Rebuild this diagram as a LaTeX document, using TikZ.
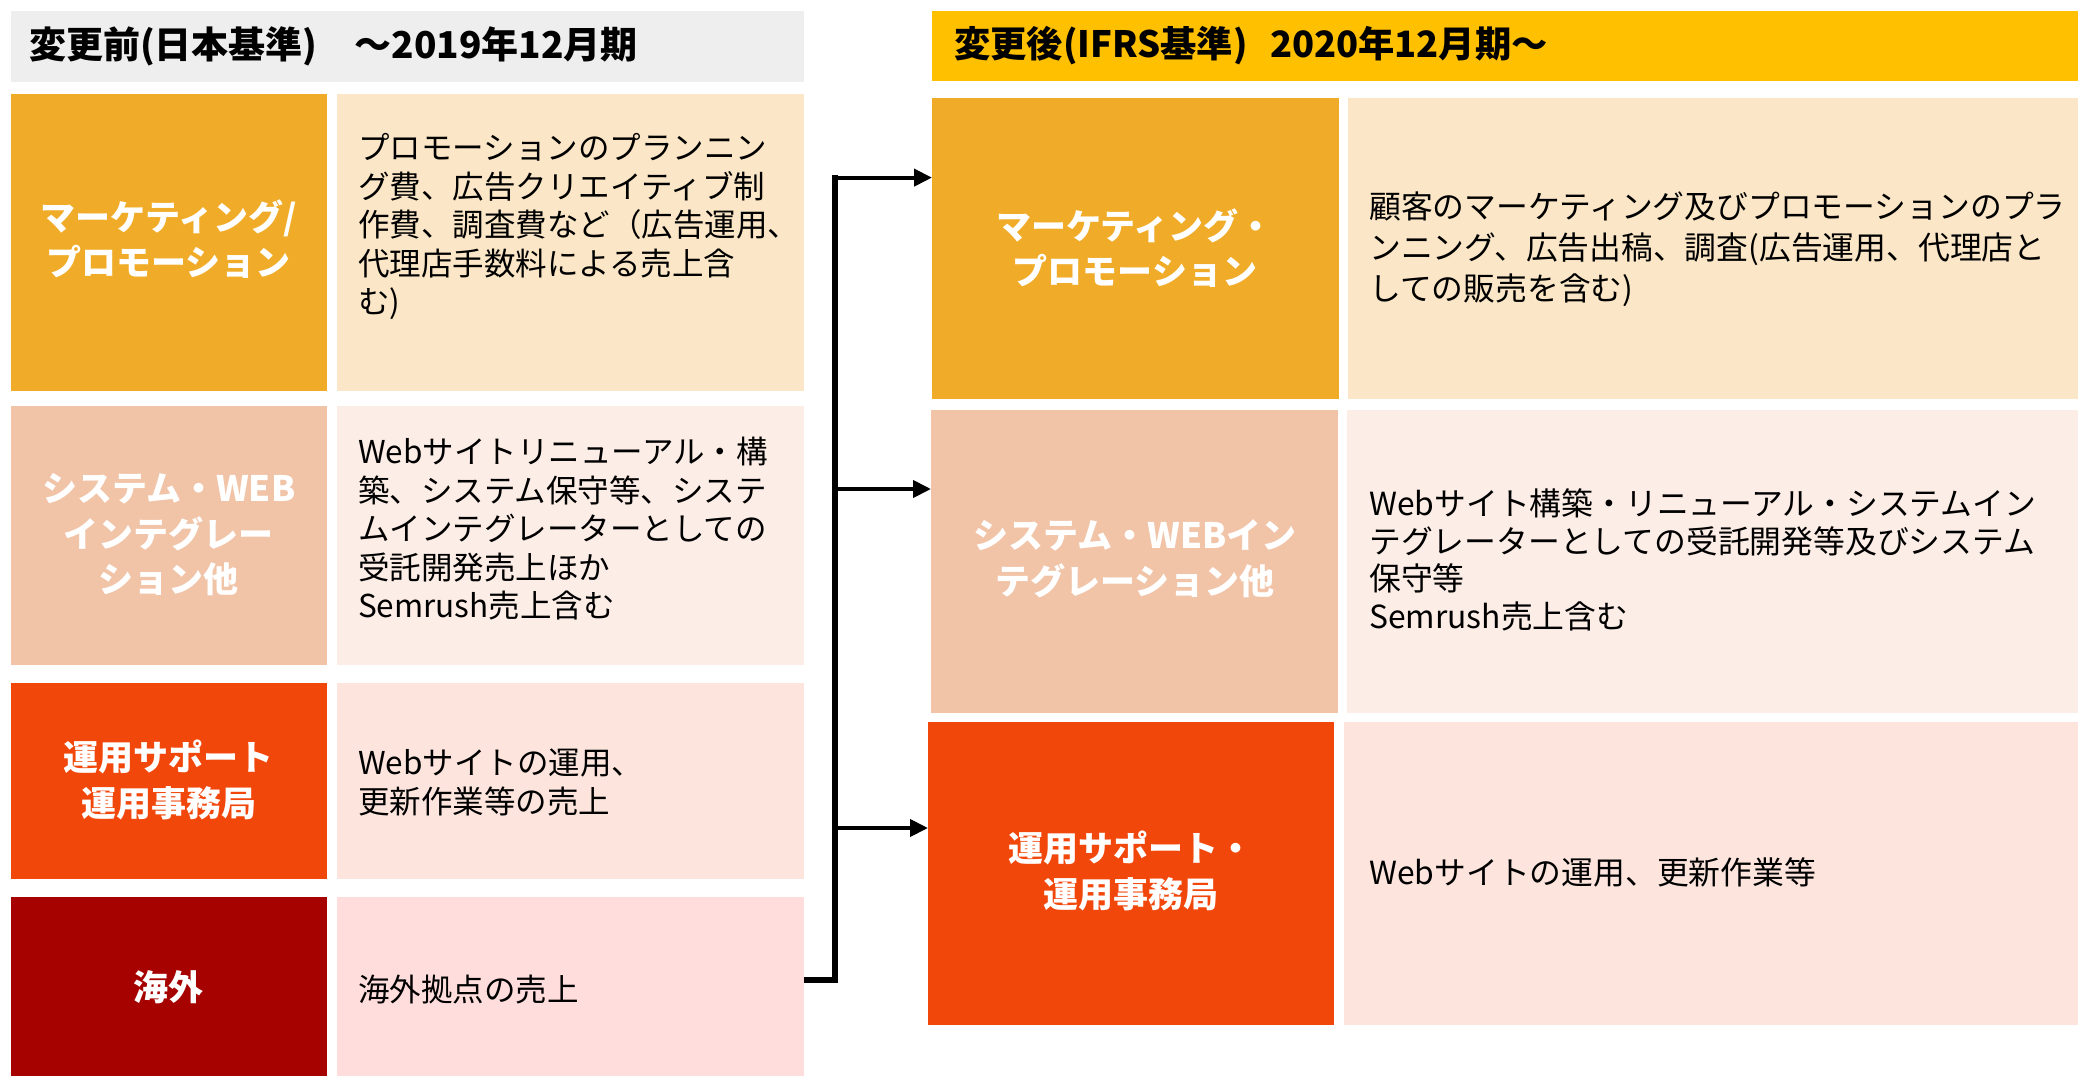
\documentclass[tikz,border=0pt]{standalone}
\usepackage{fontspec}
\setmainfont{Noto Sans CJK JP}
\usetikzlibrary{arrows.meta}
\definecolor{hdrL}{HTML}{EEEEEE}
\definecolor{hdrR}{HTML}{FFC000}
\definecolor{cAd}{HTML}{F0AC29}
\definecolor{cAl}{HTML}{FBE7C7}
\definecolor{cBd}{HTML}{F1C4A8}
\definecolor{cBl}{HTML}{FCEDE6}
\definecolor{cCd}{HTML}{F2470A}
\definecolor{cCl}{HTML}{FDE5DE}
\definecolor{cDd}{HTML}{A50200}
\definecolor{cDl}{HTML}{FEDDDC}
\newcommand\mybox[6]{\node[boxshape,fill=#2,minimum width={(#5-#3)*1pt},minimum height={(#6-#4)*1pt}] (#1) at ({(#3+#5)/2},{(#4+#6)/2}) {};}
\tikzset{
  boxshape/.style={rectangle,draw=none,inner sep=0pt,outer sep=0pt},
  hdrtext/.style={anchor=west,inner sep=0pt,font=\fontsize{37}{44}\selectfont\bfseries,text=black},
  labtext/.style={align=center,inner sep=0pt,text=white,font=\fontsize{35}{45.5}\selectfont\bfseries},
  desctext/.style={anchor=west,align=left,inner sep=0pt,text=black,font=\fontsize{31.5}{38.5}\selectfont},
  descR/.style={desctext,font=\fontsize{31.8}{41}\selectfont},
  descRb/.style={desctext,font=\fontsize{31.8}{37.6}\selectfont},
  stemline/.style={line width=5.5pt,line join=miter,draw=black},
  branch/.style={line width=4pt,draw=black,-{Triangle[length=18pt,width=17pt]}}
}
\begin{document}
\begin{tikzpicture}[x=1pt,y=-1pt]
\useasboundingbox[fill=white] (0,0) rectangle (2078,1076);
% headers
\mybox{HL}{hdrL}{10.6}{10.6}{804}{82}
\mybox{HR}{hdrR}{932}{10.6}{2078}{81}
\node[hdrtext] (HLt) at (29,46.3) {変更前(日本基準)　～2019年12月期};
\node[hdrtext,font=\fontsize{36.3}{44}\selectfont\bfseries] (HRt) at (954,45.8) {変更後(IFRS基準)　\hspace{-14pt}2020年12月期～};
% left column
\mybox{L1d}{cAd}{10.6}{94}{327}{391}
\mybox{L1l}{cAl}{337}{94}{804}{391}
\mybox{L2d}{cBd}{10.6}{405.5}{327}{665}
\mybox{L2l}{cBl}{337}{405.5}{804}{665}
\mybox{L3d}{cCd}{10.6}{682.5}{327}{878.7}
\mybox{L3l}{cCl}{337}{682.5}{804}{878.7}
\mybox{L4d}{cDd}{10.6}{897}{327}{1076}
\mybox{L4l}{cDl}{337}{897}{804}{1076}
% right column
\mybox{R1d}{cAd}{932}{98}{1338.5}{399}
\mybox{R1l}{cAl}{1348}{98}{2078}{399}
\mybox{R2d}{cBd}{931}{409.5}{1338}{713}
\mybox{R2l}{cBl}{1347}{409.5}{2078}{713}
\mybox{R3d}{cCd}{928}{722}{1334}{1024.5}
\mybox{R3l}{cCl}{1344}{722}{2078}{1024.5}
% left labels
\node[labtext] (L1lab) at (168.8,239) {マーケティング/\\プロモーション};
\node[labtext] (L2lab) at (168.8,535) {システム・WEB\\インテグレー\\ション他};
\node[labtext] (L3lab) at (168.8,780) {運用サポート\\運用事務局};
\node[labtext] (L4lab) at (168.8,987) {海外};
% right labels
\node[labtext] (R1lab) at (1135,248) {マーケティング・\\プロモーション};
\node[labtext] (R2lab) at (1135,559) {システム・WEBイン\\テグレーション他};
\node[labtext] (R3lab) at (1131,871) {運用サポート・\\運用事務局};
% left descriptions
\node[desctext] (L1txt) at (358,226.7) {プロモーションのプランニン\\グ費、広告クリエイティブ制\\作費、調査費など（広告運用、\\代理店手数料による売上含\\む)};
\node[desctext] (L2txt) at (358,529) {Webサイトリニューアル・構\\築、システム保守等、システ\\ムインテグレーターとしての\\受託開発売上ほか\\Semrush売上含む};
\node[desctext] (L3txt) at (358,782.6) {Webサイトの運用、\\更新作業等の売上};
\node[desctext] (L4txt) at (358,990) {海外拠点の売上};
% right descriptions
\node[descR] (R1txt) at (1369,249) {顧客のマーケティング及びプロモーションのプラ\\ンニング、広告出稿、調査(広告運用、代理店と\\しての販売を含む)};
\node[descRb] (R2txt) at (1369,560) {Webサイト構築・リニューアル・システムイン\\テグレーターとしての受託開発等及びシステム\\保守等\\Semrush売上含む};
\node[descR] (R3txt) at (1369,872) {Webサイトの運用、更新作業等};
% connector
\coordinate (jb) at (835,980);
\coordinate (j1) at (835,177.6);
\coordinate (j2) at (835,489);
\coordinate (j3) at (835,828);
\draw[stemline] (L4l.east |- jb) -- (jb) -- ([yshift=2.75pt]j1);
\draw[branch] ([xshift=-2.75pt]j1) -- (j1 -| R1d.west);
\draw[branch] (j2) -- (j2 -| R2d.west);
\draw[branch] (j3) -- (j3 -| R3d.west);
\end{tikzpicture}
\end{document}
